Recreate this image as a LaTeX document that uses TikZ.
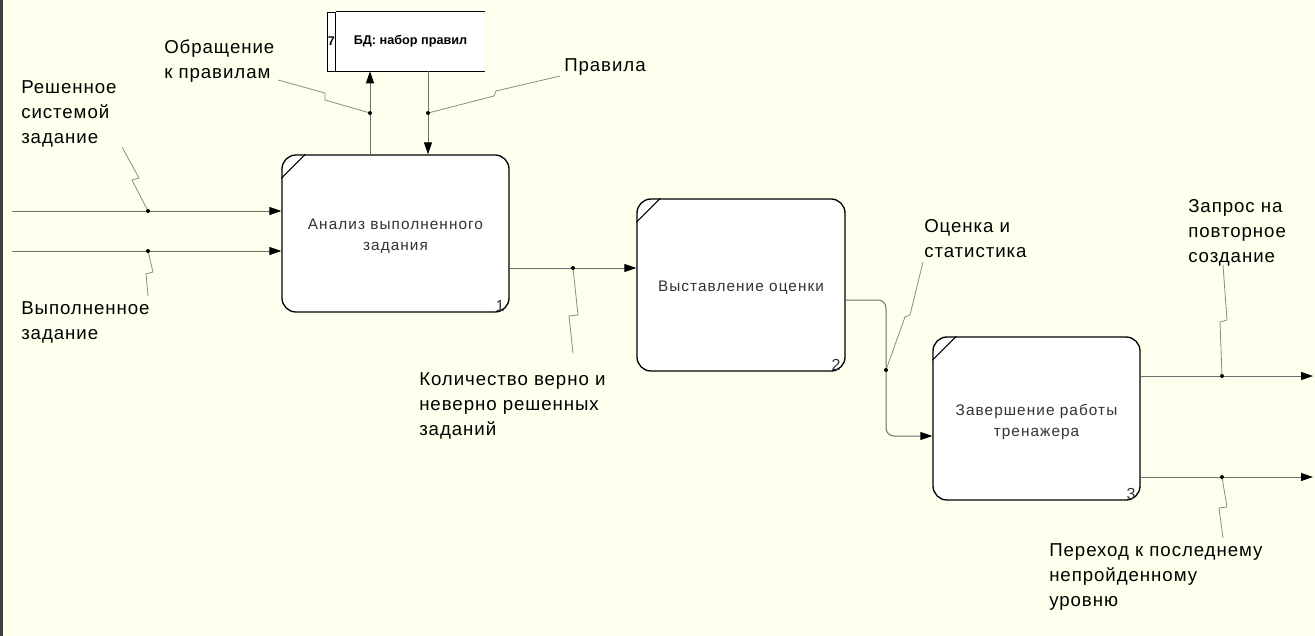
\documentclass[tikz,border=0pt]{standalone}
\usepackage{fontspec}
\setmainfont{Liberation Sans}
\newfontfamily\lblfont[LetterSpace=5]{Liberation Sans}
\newfontfamily\actfont[LetterSpace=7]{Liberation Sans}
\usetikzlibrary{arrows.meta,positioning,calc}
\definecolor{paper}{HTML}{FFFFEE}
\definecolor{edgec}{HTML}{404040}
\definecolor{wirec}{HTML}{6E6E6E}
\definecolor{tiec}{HTML}{8A8A8A}
\tikzset{
  act/.style={draw=black, line width=1pt, fill=white, rounded corners=10.5pt, inner sep=0pt,
    align=center, text=black!80, font=\actfont\fontsize{11.5}{15.75}\selectfont},
  acttext/.style={inner sep=0pt, align=center, text=black!80, font=\actfont\fontsize{11.5}{15.75}\selectfont},
  num/.style={anchor=south east, inner sep=0pt, text=black!80, font=\actfont\fontsize{12}{12}\selectfont},
  lbl/.style={anchor=north west, inner sep=0pt, align=left, font=\lblfont\fontsize{14}{18.75}\selectfont},
  flow/.style={draw=wirec, line width=0.75pt, -{Triangle[length=9pt,width=6pt,color=black]}},
  tie/.style={draw=tiec, line width=0.6pt},
  jn/.style={circle, fill=black, inner sep=0pt, minimum size=3pt},
}
\begin{document}
\begin{tikzpicture}[x=0.75pt, y=-0.75pt]
  \fill[paper] (0,0) rectangle (1315,636);
  \useasboundingbox (0,0) rectangle (1315,636);
  \draw[edgec, line width=2.25pt] (1.5,0) -- (1.5,636);
  % activities
  \node[act, minimum width=170.25pt, minimum height=117.75pt] (b1) at (395.5,233.5) {};
  \node[act, minimum width=156pt, minimum height=129pt] (b2) at (741,285) {};
  \node[act, minimum width=155.25pt, minimum height=122.25pt] (b3) at (1036.5,418.5) {};
  \node[acttext] (t1) at ($(b1.center)+(0,3)$) {Анализ выполненного\\задания};
  \node[acttext] (t2) at ($(b2.center)+(0,3)$) {Выставление оценки};
  \node[acttext] (t3) at ($(b3.center)+(0,3)$) {Завершение работы\\тренажера};
  \foreach \b/\n in {b1/1,b2/2,b3/3}{
    \draw[line width=0.75pt] ($(\b.north west)+(0,24)$) -- ($(\b.north west)+(24,0)$);
    \node[num] (n\n) at ($(\b.south east)+(-5,-1)$) {\n};}
  % data store
  \node[fill=white, minimum width=111.75pt, minimum height=44.25pt, inner sep=0pt,
    font=\bfseries\fontsize{9.5}{11}\selectfont] (db) at (410.5,41.5) {БД: набор правил};
  \node[fill=white, draw=black, minimum width=6pt, minimum height=44.25pt, inner sep=0pt, anchor=east,
    font=\bfseries\fontsize{9.5}{11}\selectfont] (dbno) at (db.west) {7};
  \draw[line width=1pt] (db.north west) -- (db.north east);
  \draw[line width=1pt] (db.south west) -- (db.south east);
  % arrows
  \coordinate (i1) at (12,211);
  \coordinate (i2) at (12,251);
  \coordinate (j1) at (148,211);
  \coordinate (j2) at (148,251);
  \coordinate (jc) at (370,113);
  \coordinate (jr) at (428,113);
  \coordinate (jq) at (573,268);
  \coordinate (js) at (886,370);
  \coordinate (jz) at (1222,376);
  \coordinate (jp) at (1222,477);
  \coordinate (o1) at (1313,376);
  \coordinate (o2) at (1313,477);
  \draw[flow] (i1) -- (i1 -| b1.west);
  \draw[flow] (i2) -- (i2 -| b1.west);
  \draw[flow] (jc |- b1.north) -- (jc |- db.south);
  \draw[flow] (jr |- db.south) -- (jr |- b1.north);
  \draw[flow] (jq -| b1.east) -- (jq -| b2.west);
  \draw[flow, rounded corners=6pt] ($(b2.east)+(0,15)$) -| (js) |- ($(b3.west)+(0,17.5)$);
  \draw[flow] (jz -| b3.east) -- (o1);
  \draw[flow] (jp -| b3.east) -- (o2);
  % label leaders
  \draw[tie] (j1) -- ++(-16,-31) -- ++(7,-2) -- ++(-17,-31);
  \draw[tie] (j2) -- ++(5,21) -- ++(-7,2) -- ++(2,22);
  \draw[tie] (jc) -- ++(-45,-13) -- ++(0,-7) -- ++(-47,-13);
  \draw[tie] (jr) -- ++(66,-17) -- ++(2,-5) -- ++(64,-15);
  \draw[tie] (jq) -- ++(5,47) -- ++(-9,1) -- ++(4,37);
  \draw[tie] (js) -- ++(19,-53) -- ++(5,-2) -- ++(13,-53);
  \draw[tie] (jz) -- ++(-2,-54) -- ++(7,-2) -- ++(-4,-55);
  \draw[tie] (jp) -- ++(5,30) -- ++(-8,1) -- ++(4,30);
  \foreach \j in {j1,j2,jc,jr,jq,js,jz,jp}
    \node[jn] (d\j) at (\j) {};
  % labels
  \node[lbl] (l1) at (21,80) {Решенное\\системой\\задание};
  \node[lbl] (l2) at (21,301) {Выполненное\\задание};
  \node[lbl] (l3) at (164,40) {Обращение\\к правилам};
  \node[lbl] (l4) at (564,58) {Правила};
  \node[lbl] (l5) at (419,372) {Количество верно и\\неверно решенных\\заданий};
  \node[lbl] (l6) at (924,219) {Оценка и\\статистика};
  \node[lbl] (l7) at (1188,199) {Запрос на\\повторное\\создание};
  \node[lbl] (l8) at (1049,543) {Переход к последнему\\непройденному\\уровню};
\end{tikzpicture}
\end{document}
